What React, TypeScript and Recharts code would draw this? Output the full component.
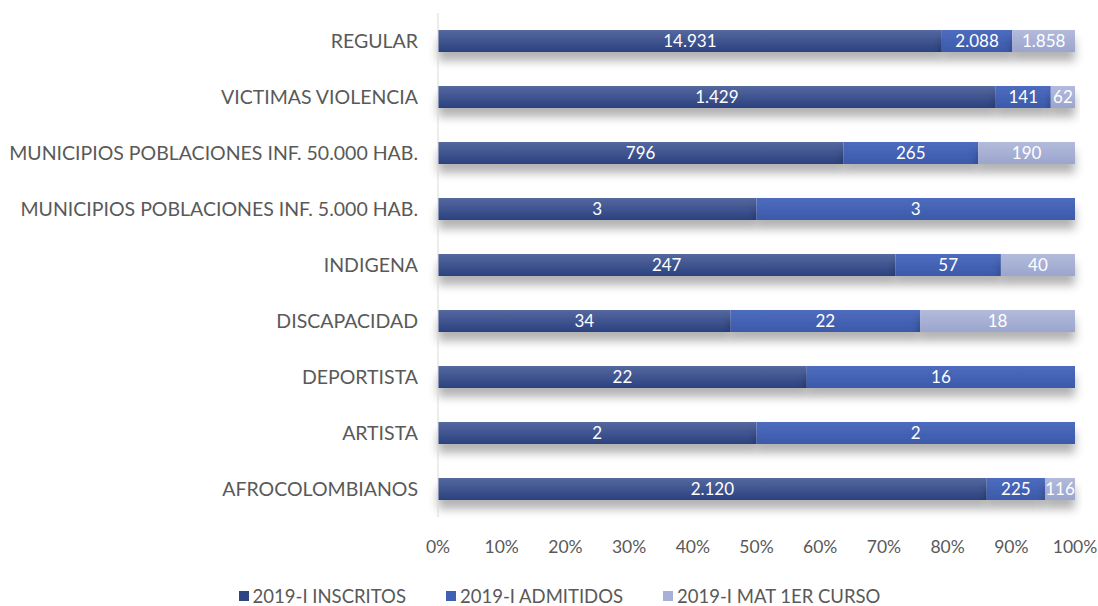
import { Bar, BarChart, LabelList, Legend, XAxis, YAxis } from 'recharts';

const categories = [
  'REGULAR ',
  'VICTIMAS VIOLENCIA',
  'MUNICIPIOS POBLACIONES INF. 50.000 HAB.',
  'MUNICIPIOS POBLACIONES INF. 5.000 HAB.',
  'INDIGENA',
  'DISCAPACIDAD',
  'DEPORTISTA',
  'ARTISTA',
  'AFROCOLOMBIANOS',
];
const inscritos = [14931, 1429, 796, 3, 247, 34, 22, 2, 2120];
const admitidos = [2088, 141, 265, 3, 57, 22, 16, 2, 225];
const matriculados = [1858, 62, 190, 0, 40, 18, 0, 0, 116];
const percentTicks = [0, 0.1, 0.2, 0.3, 0.4, 0.5, 0.6, 0.7, 0.8, 0.9, 1];

const series = [
  { key: 'inscritos', name: '2019-I INSCRITOS', fill: 'url(#gInscritos)', swatch: '#2f4584' },
  { key: 'admitidos', name: '2019-I ADMITIDOS', fill: 'url(#gAdmitidos)', swatch: '#4060b4' },
  { key: 'matriculados', name: '2019-I MAT 1ER CURSO', fill: 'url(#gMat)', swatch: '#a7b0d6' },
];

const data = categories.map((name, i) => ({
  name,
  inscritos: inscritos[i],
  admitidos: admitidos[i],
  matriculados: matriculados[i],
}));

const FONT = 'Lato, "Open Sans", sans-serif';

const formatNumber = (v: unknown) => {
  const n = Number(v);
  if (!n) return '';
  return n.toLocaleString('de-DE');
};

function LegendRow() {
  return (
    <div style={{ display: 'flex', justifyContent: 'center', gap: 40, paddingTop: 18, paddingLeft: 44, fontFamily: FONT, fontSize: 18.5, color: '#595959' }}>
      {series.map((s) => (
        <span key={s.key} style={{ display: 'flex', alignItems: 'center', gap: 4 }}>
          <span style={{ width: 10, height: 10, background: s.swatch, display: 'inline-block' }} />
          {s.name}
        </span>
      ))}
    </div>
  );
}

export default function App() {
  return (
    <div style={{ position: 'absolute', left: 0, top: 0, width: 1098, height: 606, background: '#fff' }}>
      <style>{'.recharts-bar-rectangle { filter: url(#barShadow); }'}</style>
      <BarChart
        width={1098}
        height={606}
        data={data}
        layout="vertical"
        stackOffset="expand"
        barSize={22}
        margin={{ top: 13, right: 23, bottom: 0, left: 0 }}
      >
        <defs>
          <linearGradient id="gInscritos" x1="0" x2="0" y1="0" y2="1">
            <stop offset="0%" stopColor="#55689f" />
            <stop offset="100%" stopColor="#2b417f" />
          </linearGradient>
          <linearGradient id="gAdmitidos" x1="0" x2="0" y1="0" y2="1">
            <stop offset="0%" stopColor="#4e6cbd" />
            <stop offset="100%" stopColor="#3b59aa" />
          </linearGradient>
          <linearGradient id="gMat" x1="0" x2="0" y1="0" y2="1">
            <stop offset="0%" stopColor="#b3bbdc" />
            <stop offset="100%" stopColor="#9ba5cd" />
          </linearGradient>
          <filter id="barShadow" x="-20%" y="-50%" width="140%" height="300%">
            <feDropShadow dx={0} dy={9} stdDeviation={5} floodColor="#000" floodOpacity={0.3} />
          </filter>
        </defs>
        <XAxis
          type="number"
          domain={[0, 1]}
          ticks={percentTicks}
          tickFormatter={(v: number) => `${Math.round(v * 100)}%`}
          axisLine={false}
          tickLine={false}
          tickSize={0}
          tickMargin={24}
          height={50}
          tick={{ fill: '#595959', fontSize: 17.5, fontFamily: FONT }}
        />
        <YAxis
          type="category"
          dataKey="name"
          width={438}
          axisLine={{ stroke: '#d9d9d9' }}
          tickLine={false}
          tickSize={0}
          tickMargin={20}
          interval={0}
          tick={{ fill: '#595959', fontSize: 19.5, fontFamily: FONT }}
        />
        <Legend verticalAlign="bottom" height={39} content={<LegendRow />} />
        {series.map((s) => (
          <Bar key={s.key} dataKey={s.key} name={s.name} stackId="a" fill={s.fill} isAnimationActive={false}>
            <LabelList dataKey={s.key} position="center" formatter={formatNumber} fill="#fff" fontSize={17} fontFamily={FONT} />
          </Bar>
        ))}
      </BarChart>
    </div>
  );
}
